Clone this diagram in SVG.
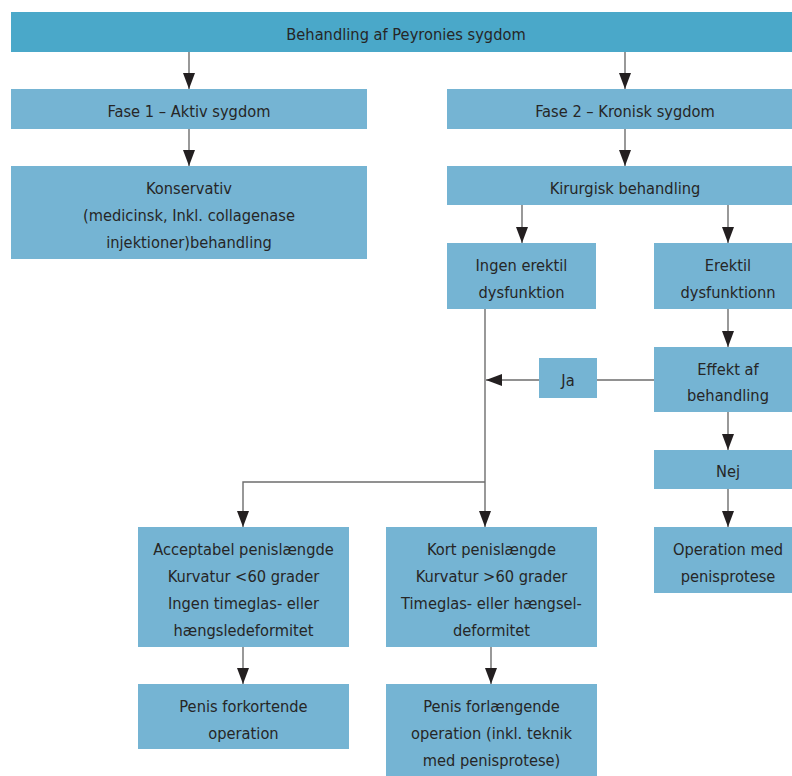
<svg xmlns="http://www.w3.org/2000/svg" width="792" height="776" viewBox="0 0 792 776">
<defs>
<style>
.box{fill:#75b4d3}
.top{fill:#4aa8c9}
text{font-family:"DejaVu Sans Condensed","Roboto Condensed","Liberation Sans Narrow","DejaVu Sans",sans-serif;font-stretch:condensed;font-size:16.3px;fill:#262626;text-anchor:middle}
.ln{stroke:#6d6d6d;stroke-width:1.4;fill:none}
.ar{stroke:#6d6d6d;stroke-width:1.4;fill:none;marker-end:url(#ah)}
</style>
<marker id="ah" viewBox="0 0 16 12" refX="16" refY="6" markerWidth="16" markerHeight="12" markerUnits="userSpaceOnUse" orient="auto">
<path d="M0,0 L16,6 L0,12 Z" fill="#231f20"/>
</marker>
</defs>
<rect width="792" height="776" fill="#ffffff"/>
<g id="connectors">
<path class="ar" d="M189,52 V89"/>
<path class="ar" d="M625,52 V89"/>
<path class="ar" d="M189,129 V166"/>
<path class="ar" d="M625,129 V166"/>
<path class="ar" d="M522,205 V243"/>
<path class="ar" d="M728,205 V243"/>
<path class="ar" d="M728,309 V347"/>
<path class="ar" d="M728,412 V450"/>
<path class="ar" d="M728,489 V527"/>
<path class="ln" d="M654,380 H597"/>
<path class="ar" d="M539,380 H486"/>
<path class="ar" d="M485,309 V527"/>
<path class="ar" d="M485,482 H243 V527"/>
<path class="ar" d="M243,647 V684"/>
<path class="ar" d="M491,647 V684"/>
</g>
<g id="n-top"><rect class="top" x="11" y="12" width="781" height="40"/><text x="406" y="40">Behandling af Peyronies sygdom</text></g>
<g id="n-fase1"><rect class="box" x="11" y="89" width="356" height="40"/><text x="189" y="116.5">Fase 1 – Aktiv sygdom</text></g>
<g id="n-fase2"><rect class="box" x="447" y="89" width="345" height="40"/><text x="625" y="116.5">Fase 2 – Kronisk sygdom</text></g>
<g id="n-konservativ"><rect class="box" x="11" y="166" width="356" height="93"/><text x="189" y="194">Konservativ</text><text x="189" y="221">(medicinsk, Inkl. collagenase</text><text x="189" y="248">injektioner)behandling</text></g>
<g id="n-kirurgisk"><rect class="box" x="447" y="166" width="345" height="39"/><text x="625" y="193.5">Kirurgisk behandling</text></g>
<g id="n-ingen"><rect class="box" x="447" y="243" width="149" height="66"/><text x="521.5" y="271">Ingen erektil</text><text x="521.5" y="298">dysfunktion</text></g>
<g id="n-erektil"><rect class="box" x="654" y="243" width="138" height="66"/><text x="728" y="271">Erektil</text><text x="728" y="298">dysfunktionn</text></g>
<g id="n-ja"><rect class="box" x="539" y="358" width="58" height="40"/><text x="568" y="386">Ja</text></g>
<g id="n-effekt"><rect class="box" x="654" y="347" width="138" height="65"/><text x="728" y="375">Effekt af</text><text x="728" y="401">behandling</text></g>
<g id="n-nej"><rect class="box" x="654" y="450" width="138" height="39"/><text x="728" y="477">Nej</text></g>
<g id="n-operation"><rect class="box" x="654" y="527" width="138" height="66"/><text x="728" y="555">Operation med</text><text x="728" y="582">penisprotese</text></g>
<g id="n-acceptabel"><rect class="box" x="138" y="527" width="211" height="120"/><text x="243.5" y="555">Acceptabel penislængde</text><text x="243.5" y="582">Kurvatur &lt;60 grader</text><text x="243.5" y="609">Ingen timeglas- eller</text><text x="243.5" y="636">hængsledeformitet</text></g>
<g id="n-kort"><rect class="box" x="386" y="527" width="211" height="120"/><text x="491.5" y="555">Kort penislængde</text><text x="491.5" y="582">Kurvatur &gt;60 grader</text><text x="491.5" y="609">Timeglas- eller hængsel-</text><text x="491.5" y="636">deformitet</text></g>
<g id="n-forkortende"><rect class="box" x="138" y="684" width="211" height="65"/><text x="243.5" y="712">Penis forkortende</text><text x="243.5" y="739">operation</text></g>
<g id="n-forlaengende"><rect class="box" x="386" y="684" width="211" height="92"/><text x="491.5" y="712">Penis forlængende</text><text x="491.5" y="739">operation (inkl. teknik</text><text x="491.5" y="766">med penisprotese)</text></g>
</svg>
